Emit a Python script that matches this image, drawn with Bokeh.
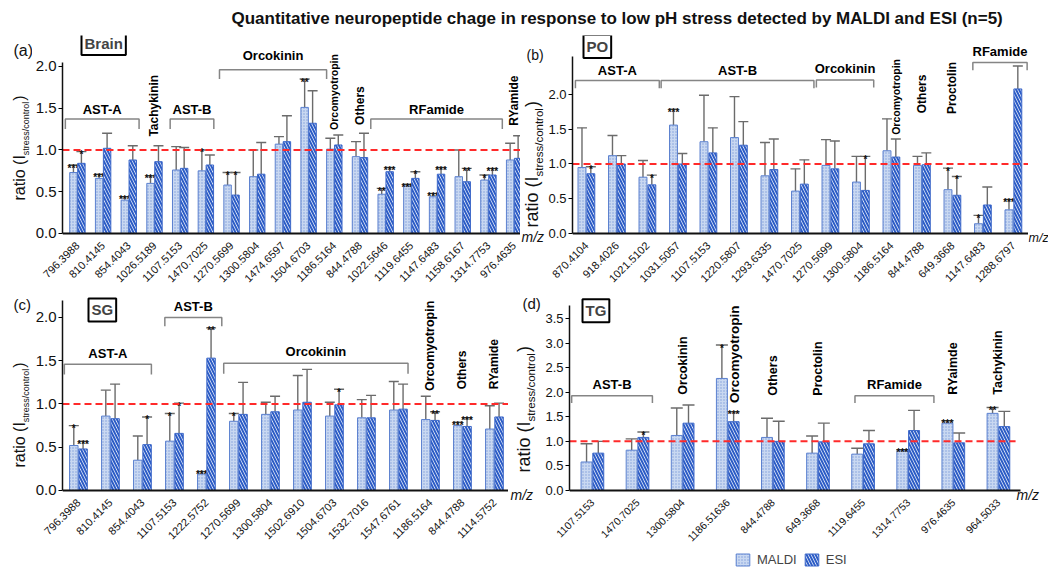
import math
from bokeh.plotting import figure
from bokeh.models import (ColumnDataSource, Range1d, FixedTicker, PrintfTickFormatter,
                          Whisker, TeeHead, Label, Legend, LegendItem)
from bokeh.layouts import column, row
from bokeh.embed import file_html
from bokeh.resources import INLINE
from bokeh.core.properties import value

# ---------------- DATA ----------------
title_text = "Quantitative neuropeptide chage in response to low pH stress detected by MALDI and ESI  (n=5)"

# (a) Brain
a_labels = ["796.3988", "810.4145", "854.4043", "1026.5189", "1107.5153", "1470.7025", "1270.5699",
            "1300.5804", "1474.6597", "1504.6703", "1186.5164", "844.4788", "1022.5646", "1119.6455",
            "1147.6483", "1158.6167", "1314.7753", "976.4635"]
a_maldi = [0.73, 0.66, 0.40, 0.60, 0.76, 0.75, 0.58, 0.68, 1.07, 1.51, 1.01, 0.92, 0.47, 0.57, 0.44, 0.68, 0.64, 0.88]
a_maldi_sd = [0.09, 0.05, 0.04, 0.09, 0.28, 0.25, 0.15, 0.32, 0.09, 0.34, 0.13, 0.18, 0.07, 0.02, 0.04, 0.32, 0.06, 0.20]
a_esi = [0.84, 1.02, 0.88, 0.86, 0.78, 0.82, 0.46, 0.71, 1.10, 1.32, 1.06, 0.91, 0.74, 0.66, 0.71, 0.62, 0.70, 0.90]
a_esi_sd = [0.14, 0.18, 0.17, 0.19, 0.25, 0.12, 0.27, 0.38, 0.31, 0.39, 0.12, 0.29, 0.05, 0.08, 0.08, 0.16, 0.08, 0.27]
a_sig_maldi = ["***", "***", "***", "***", "", "*", "*", "", "", "**", "", "", "**", "***", "***", "", "*", ""]
a_sig_esi = ["*", "", "", "", "", "", "*", "", "", "", "", "", "***", "*", "***", "**", "***", ""]
a_groups = [("AST-A", 0, 2), ("Tachykinin", 3, 3), ("AST-B", 4, 5), ("Orcokinin", 6, 9),
            ("Orcomyotropin", 10, 10), ("Others", 11, 11), ("RFamide", 12, 16), ("RYamide", 17, 17)]

# (b) PO
b_labels = ["870.4104", "918.4026", "1021.5102", "1031.5057", "1107.5153", "1220.5807", "1293.6335",
            "1470.7025", "1270.5699", "1300.5804", "1186.5164", "844.4788", "649.3668", "1147.6483", "1288.6797"]
b_maldi = [0.95, 1.12, 0.81, 1.56, 1.32, 1.38, 0.83, 0.61, 0.98, 0.74, 1.19, 0.98, 0.63, 0.14, 0.34]
b_maldi_sd = [0.57, 0.29, 0.24, 0.23, 0.67, 0.59, 0.48, 0.32, 0.37, 0.37, 0.46, 0.13, 0.31, 0.12, 0.15]
b_esi = [0.86, 1.00, 0.70, 1.00, 1.16, 1.27, 0.92, 0.71, 0.93, 0.62, 1.10, 0.99, 0.55, 0.41, 2.08]
b_esi_sd = [0.10, 0.12, 0.14, 0.15, 0.36, 0.34, 0.44, 0.35, 0.40, 0.49, 0.26, 0.17, 0.27, 0.26, 0.33]
b_sig_maldi = ["", "", "", "***", "", "", "", "", "", "", "", "", "*", "*", "***"]
b_sig_esi = ["*", "", "*", "", "", "", "", "", "", "*", "", "", "*", "", ""]
b_groups = [("AST-A", 0, 2), ("AST-B", 3, 7), ("Orcokinin", 8, 9), ("Orcomyotropin", 10, 10),
            ("Others", 11, 11), ("Proctolin", 12, 12), ("RFamide", 13, 14)]

# (c) SG
c_labels = ["796.3988", "810.4145", "854.4043", "1107.5153", "1222.5752", "1270.5699", "1300.5804",
            "1502.6910", "1504.6703", "1532.7016", "1547.6761", "1186.5164", "844.4788", "1114.5752"]
c_maldi = [0.52, 0.86, 0.35, 0.57, 0.19, 0.80, 0.88, 0.93, 0.86, 0.84, 0.93, 0.82, 0.75, 0.71]
c_maldi_sd = [0.23, 0.30, 0.28, 0.32, 0.03, 0.09, 0.14, 0.40, 0.16, 0.21, 0.33, 0.27, 0.04, 0.27]
c_esi = [0.48, 0.83, 0.53, 0.66, 1.53, 0.88, 0.91, 1.02, 0.99, 0.84, 0.94, 0.81, 0.74, 0.85]
c_esi_sd = [0.09, 0.40, 0.32, 0.35, 0.35, 0.37, 0.18, 0.38, 0.18, 0.26, 0.29, 0.10, 0.10, 0.16]
c_sig_maldi = ["*", "", "", "*", "***", "*", "", "", "", "", "", "", "***", ""]
c_sig_esi = ["***", "", "*", "*", "**", "", "", "", "*", "", "", "**", "***", ""]
c_groups = [("AST-A", 0, 2), ("AST-B", 3, 4), ("Orcokinin", 5, 10), ("Orcomyotropin", 11, 11),
            ("Others", 12, 12), ("RYamide", 13, 13)]

# (d) TG
d_labels = ["1107.5153", "1470.7025", "1300.5804", "1186.51636", "844.4788", "649.3668",
            "1119.6455", "1314.7753", "976.4635", "964.5033"]
d_maldi = [0.58, 0.82, 1.12, 2.28, 1.08, 0.76, 0.74, 0.81, 1.37, 1.57]
d_maldi_sd = [0.37, 0.23, 0.56, 0.68, 0.39, 0.35, 0.12, 0.02, 0.05, 0.12]
d_esi = [0.76, 1.08, 1.37, 1.40, 1.00, 0.99, 0.95, 1.22, 0.97, 1.30]
d_esi_sd = [0.24, 0.11, 0.37, 0.20, 0.41, 0.38, 0.27, 0.41, 0.20, 0.31]
d_sig_maldi = ["", "", "", "*", "", "", "", "***", "***", "**"]
d_sig_esi = ["", "*", "", "***", "", "", "", "", "", ""]
d_groups = [("AST-B", 0, 1), ("Orcokinin", 2, 2), ("Orcomyotropin", 3, 3), ("Others", 4, 4),
            ("Proctolin", 5, 5), ("RFamide", 6, 7), ("RYaimde", 8, 8), ("Tachykinin", 9, 9)]

# ---------------- STYLE / LAYOUT ----------------
FONT = "Liberation Sans"
INK = "#111111"
EB = "#6b6b6b"
BR = "#858585"
MALDI_STYLE = dict(fill_color="#c9d8f1", line_color="#5b80cf", line_width=1,
                   hatch_pattern="dot", hatch_color="#7f9dd8", hatch_scale=3, hatch_weight=0.9)
ESI_STYLE = dict(fill_color="#f4f7fd", line_color="#3d68c9", line_width=1,
                 hatch_pattern="left_diagonal_line", hatch_color="#2c5cc6", hatch_scale=6, hatch_weight=2)

# row geometry (page pixels): plots in a row share their top / bottom borders
ROW1 = dict(top=28, h=262, mbt=7, mbb=47)
ROW2 = dict(top=290, h=259, mbt=2, mbb=49)

LAY_A = dict(w=488, row=ROW1, mbl=28, xr=(-0.581, 17.248), ybot=-0.12, ytop=2.371,
             ybound=2.05, yticks=[0, 0.5, 1.0, 1.5, 2.0], ytfs="15px", xtfs="11px",
             off=0.155, bw=0.29, cap=10, box=("Brain", 19, 2.275), red_end=None, axis_end=None, mz=None,
             groups={"AST-A": dict(y=1.37, d=0.12, ly=1.49, lp=0.47, rp=0.40),
                     "Tachykinin": dict(y=1.16, fs=12),
                     "AST-B": dict(y=1.37, d=0.12, ly=1.49, lp=0.39, rp=0.31),
                     "Orcokinin": dict(y=1.96, d=0.11, ly=2.13, lp=0.47, rp=0.70),
                     "Orcomyotropin": dict(y=1.24, fs=10.5),
                     "Others": dict(y=1.30, fs=12),
                     "RFamide": dict(y=1.37, d=0.12, ly=1.49, lp=0.58, rp=0.54),
                     "RYamide": dict(y=1.29, fs=12)})
LAY_B = dict(w=483, row=ROW1, mbl=24, xr=(-0.456, 14.495), ybot=-0.144, ytop=2.849,
             ybound=2.55, yticks=[0, 0.5, 1.0, 1.5, 2.0], ytfs="13px", xtfs="11px",
             off=0.145, bw=0.26, cap=10, box=("PO", 11, 2.69), red_end=None, axis_end=None, mz=None,
             groups={"AST-A": dict(y=2.20, d=0.11, ly=2.34, lp=0.36, rp=0.39),
                     "AST-B": dict(y=2.20, d=0.11, ly=2.34, lp=0.55, rp=0.46),
                     "Orcokinin": dict(y=2.21, d=0.11, ly=2.37, lp=0.46, rp=0.42),
                     "Orcomyotropin": dict(y=1.42, fs=10.5, dx=0.15),
                     "Others": dict(y=1.73, fs=12),
                     "Proctolin": dict(y=1.72, fs=12),
                     "RFamide": dict(y=2.46, d=0.11, ly=2.62, lp=0.33, rp=0.45)})
LAY_C = dict(w=476, row=ROW2, mbl=28, xr=(-0.498, 13.44), ybot=-0.116, ytop=2.289,
             ybound=2.2, yticks=[0, 0.5, 1.0, 1.5, 2.0], ytfs="15px", xtfs="11px",
             off=0.145, bw=0.265, cap=10, box=("SG", 26, 2.087), red_end=None, axis_end=None, mz=None,
             groups={"AST-A": dict(y=1.46, d=0.12, ly=1.58, lp=0.44, rp=0.28),
                     "AST-B": dict(y=2.00, d=0.10, ly=2.13, lp=0.30, rp=0.48),
                     "Orcokinin": dict(y=1.47, d=0.12, ly=1.61, lp=0.46, rp=0.30),
                     "Orcomyotropin": dict(y=1.15, fs=12.5),
                     "Others": dict(y=1.17, fs=12),
                     "RYamide": dict(y=1.17, fs=12)})
LAY_D = dict(w=506, row=ROW2, mbl=25, xr=(-0.508, 10.11), ybot=-0.2035, ytop=4.029,
             ybound=3.77, yticks=[0, 0.5, 1.0, 1.5, 2.0, 2.5, 3.0, 3.5], ytfs="13px", xtfs="10.5px",
             off=0.13, bw=0.243, cap=12, box=("TG", 13, 3.66), red_end=0.38, axis_end=0.49, mz=(0.40, -0.09),
             groups={"AST-B": dict(y=1.93, d=0.15, ly=2.15, lp=0.46, rp=0.33),
                     "Orcokinin": dict(y=1.95, fs=12.5),
                     "Orcomyotropin": dict(y=1.78, fs=13.5, dx=0.15),
                     "Others": dict(y=1.93, fs=12.5),
                     "Proctolin": dict(y=1.93, fs=12.5),
                     "RFamide": dict(y=1.93, d=0.15, ly=2.15, lp=0.18, rp=0.57),
                     "RYaimde": dict(y=1.95, fs=12.5),
                     "Tachykinin": dict(y=1.95, fs=12.5)})


def make_panel(labels, maldi, maldi_sd, esi, esi_sd, sig_m, sig_e, groups, L):
    n = len(labels)
    R = L["row"]
    p = figure(width=L["w"], height=R["h"], x_range=Range1d(*L["xr"]),
               y_range=Range1d(L["ybot"], L["ytop"]),
               output_backend="svg", toolbar_location=None,
               min_border_left=L["mbl"], min_border_right=0,
               min_border_top=R["mbt"], min_border_bottom=R["mbb"])
    p.outline_line_color = None
    p.xgrid.visible = False
    p.ygrid.visible = False

    idx = list(range(n))
    src_m = ColumnDataSource(dict(x=[i - L["off"] for i in idx], top=maldi,
                                  upper=[m + s for m, s in zip(maldi, maldi_sd)], sig=sig_m))
    src_e = ColumnDataSource(dict(x=[i + L["off"] for i in idx], top=esi,
                                  upper=[m + s for m, s in zip(esi, esi_sd)], sig=sig_e))
    for src, sty in ((src_m, MALDI_STYLE), (src_e, ESI_STYLE)):
        p.vbar(x="x", top="top", bottom=0, width=L["bw"], source=src, **sty)
        p.add_layout(Whisker(source=src, base="x", upper="upper", lower="top", dimension="height",
                             line_color=EB, line_width=1.4, lower_head=None,
                             upper_head=TeeHead(size=L["cap"], line_color=EB, line_width=1.4)))
        p.text(x="x", y="upper", text="sig", source=src, text_align="center", text_baseline="alphabetic",
               text_font=value(FONT), text_font_size="10px", text_font_style="bold",
               text_color=INK, y_offset=3)

    x0, x1 = L["xr"]
    red_end = x1 if L["red_end"] is None else (n - 1 + L["red_end"])
    axis_end = x1 if L["axis_end"] is None else (n - 1 + L["axis_end"])
    p.segment(x0=[x0], x1=[red_end], y0=[1.0], y1=[1.0], line_color="#ff2a2a", line_width=2, line_dash="7 4")
    # baseline of the bars (the x axis itself sits a few pixels lower, its line hidden)
    p.segment(x0=[x0], x1=[axis_end], y0=[0.0], y1=[0.0], line_color=INK, line_width=2)
    if L["mz"] is not None:
        p.text(x=[n - 1 + L["mz"][0]], y=[L["mz"][1]], text=["m/z"], text_align="left",
               text_baseline="middle", text_font=value(FONT), text_font_size="14px",
               text_font_style="italic", text_color=INK)

    # group annotations
    bx, by, hx, hy, ht = [], [], [], [], []
    vx, vy, vt, vfs = [], [], [], []
    for name, i0, i1 in groups:
        g = L["groups"][name]
        if "d" in g:
            xa, xb = i0 - g["lp"], i1 + g["rp"]
            bx.append([xa, xa, xb, xb])
            by.append([g["y"] - g["d"], g["y"], g["y"], g["y"] - g["d"]])
            hx.append((xa + xb) / 2)
            hy.append(g["ly"])
            ht.append(name)
        else:
            vx.append(i0 + g.get("dx", 0.0))
            vy.append(g["y"])
            vt.append(name)
            vfs.append(f'{g["fs"]}px')
    p.multi_line(xs=bx, ys=by, line_color=BR, line_width=1.5)
    p.text(x=hx, y=hy, text=ht, text_align="center", text_baseline="middle", text_font=value(FONT),
           text_font_size="13px", text_font_style="bold", text_color="#000000")
    p.text(x=vx, y=vy, text=vt, angle=math.pi / 2, text_align="left", text_baseline="middle",
           text_font=value(FONT), text_font_size=vfs, text_font_style="bold", text_color="#000000")

    # axes
    xa_ = p.xaxis[0]
    xa_.ticker = FixedTicker(ticks=idx)
    xa_.major_label_overrides = {i: lab for i, lab in enumerate(labels)}
    xa_.major_label_orientation = math.pi / 4
    xa_.major_label_text_font = FONT
    xa_.major_label_text_font_size = L["xtfs"]
    xa_.major_label_text_color = INK
    xa_.major_label_standoff = 0
    xa_.major_tick_out = 0
    xa_.major_tick_in = 0
    xa_.minor_tick_out = 0
    xa_.minor_tick_in = 0
    xa_.axis_line_color = None

    ya = p.yaxis[0]
    ya.ticker = FixedTicker(ticks=L["yticks"])
    ya.formatter = PrintfTickFormatter(format="%.1f")
    ya.bounds = (0, L["ybound"])
    ya.major_label_text_font = FONT
    ya.major_label_text_font_size = L["ytfs"]
    ya.major_label_text_color = INK
    ya.major_tick_out = 4
    ya.major_tick_in = 0
    ya.minor_tick_out = 0
    ya.minor_tick_in = 0
    ya.axis_line_width = 1.5
    ya.axis_line_color = INK
    ya.major_label_standoff = 2

    bt, bxx, byy = L["box"]
    p.add_layout(Label(x=bxx, x_units="screen", y=byy, y_units="data", text=bt, text_font=FONT,
                       text_font_size="15px", text_font_style="bold", text_align="left",
                       text_baseline="middle", border_line_color="#000000", border_line_width=2,
                       background_fill_color="white", padding=3))
    return p


def strip(w, px0, R):
    """A blank figure in a row; its frame is aligned with the row's plot frames and its
    data coordinates equal page pixels (y negated)."""
    f = figure(width=w, height=R["h"], x_range=Range1d(px0, px0 + w),
               y_range=Range1d(-(R["top"] + R["h"] - R["mbb"]), -(R["top"] + R["mbt"])),
               output_backend="svg", toolbar_location=None, x_axis_location=None, y_axis_location=None,
               min_border_left=0, min_border_right=0, min_border_top=R["mbt"], min_border_bottom=R["mbb"])
    f.outline_line_color = None
    f.xgrid.visible = False
    f.ygrid.visible = False
    return f


def stext(f, x, y, text, fs, style="normal", align="left", angle=0.0):
    f.add_layout(Label(x=x, y=-y, text=text, text_font=FONT, text_font_size=f"{fs}px",
                       text_font_style=style, text_align=align, text_baseline="middle",
                       angle=angle, text_color=INK))


def ylabel(f, xc, ystart, fs_main, fs_sub):
    w_main = 2.834 * fs_main
    w_sub = 5.946 * fs_sub
    stext(f, xc, ystart, "ratio (I", fs_main, angle=math.pi / 2)
    stext(f, xc + 0.42 * fs_main, ystart - w_main, "stress/control", fs_sub, angle=math.pi / 2)
    stext(f, xc, ystart - w_main - w_sub - 1, ")", fs_main, angle=math.pi / 2)


pa = make_panel(a_labels, a_maldi, a_maldi_sd, a_esi, a_esi_sd, a_sig_maldi, a_sig_esi, a_groups, LAY_A)
pb = make_panel(b_labels, b_maldi, b_maldi_sd, b_esi, b_esi_sd, b_sig_maldi, b_sig_esi, b_groups, LAY_B)
pc = make_panel(c_labels, c_maldi, c_maldi_sd, c_esi, c_esi_sd, c_sig_maldi, c_sig_esi, c_groups, LAY_C)
pd_ = make_panel(d_labels, d_maldi, d_maldi_sd, d_esi, d_esi_sd, d_sig_maldi, d_sig_esi, d_groups, LAY_D)

# side strips (page coordinates)
s1 = strip(32, 0, ROW1)
stext(s1, 13, 49.5, "(a)", 16)
ylabel(s1, 19, 200, 16, 9)

s2 = strip(25, 520, ROW1)
stext(s2, 521, 236, "m/z", 14, style="italic")
stext(s2, 526, 54, "(b)", 14)
ylabel(s2, 531, 227, 18, 11.5)

s5 = strip(20, 1028, ROW1)
stext(s5, 1028, 237, "m/z", 12.5, style="italic")

s3 = strip(32, 0, ROW2)
stext(s3, 13, 304, "(c)", 15)
ylabel(s3, 19, 467, 16, 9)

s4 = strip(34, 508, ROW2)
stext(s4, 510, 494, "m/z", 14, style="italic")
stext(s4, 522, 302.5, "(d)", 15)
ylabel(s4, 523, 472, 18, 11.5)

# title strip
tf = figure(width=1048, height=28, x_range=Range1d(0, 1048), y_range=Range1d(-28, 0),
            output_backend="svg", toolbar_location=None, x_axis_location=None, y_axis_location=None,
            min_border=0)
tf.outline_line_color = None
tf.xgrid.visible = False
tf.ygrid.visible = False
stext(tf, 619, 18, title_text, 17, style="bold", align="center")

# legend strip
lf = figure(width=1048, height=20, x_range=Range1d(0, 1), y_range=Range1d(0, 1),
            output_backend="svg", toolbar_location=None, x_axis_location=None, y_axis_location=None,
            min_border=0)
lf.outline_line_color = None
lf.xgrid.visible = False
lf.ygrid.visible = False
r1 = lf.vbar(x=[5], top=[0.5], width=0.1, **MALDI_STYLE)
r2 = lf.vbar(x=[5], top=[0.5], width=0.1, **ESI_STYLE)
leg = Legend(items=[LegendItem(label="MALDI", renderers=[r1]), LegendItem(label="ESI", renderers=[r2])],
             location=(734, 2), orientation="horizontal", glyph_width=17, glyph_height=15,
             label_text_font=FONT, label_text_font_size="13px", border_line_color=None,
             background_fill_alpha=0, padding=1, spacing=6, label_standoff=6, margin=0)
lf.add_layout(leg)

layout = column(tf, row(s1, pa, s2, pb, s5), row(s3, pc, s4, pd_), lf)
open("out.html", "w").write(file_html(layout, INLINE))
